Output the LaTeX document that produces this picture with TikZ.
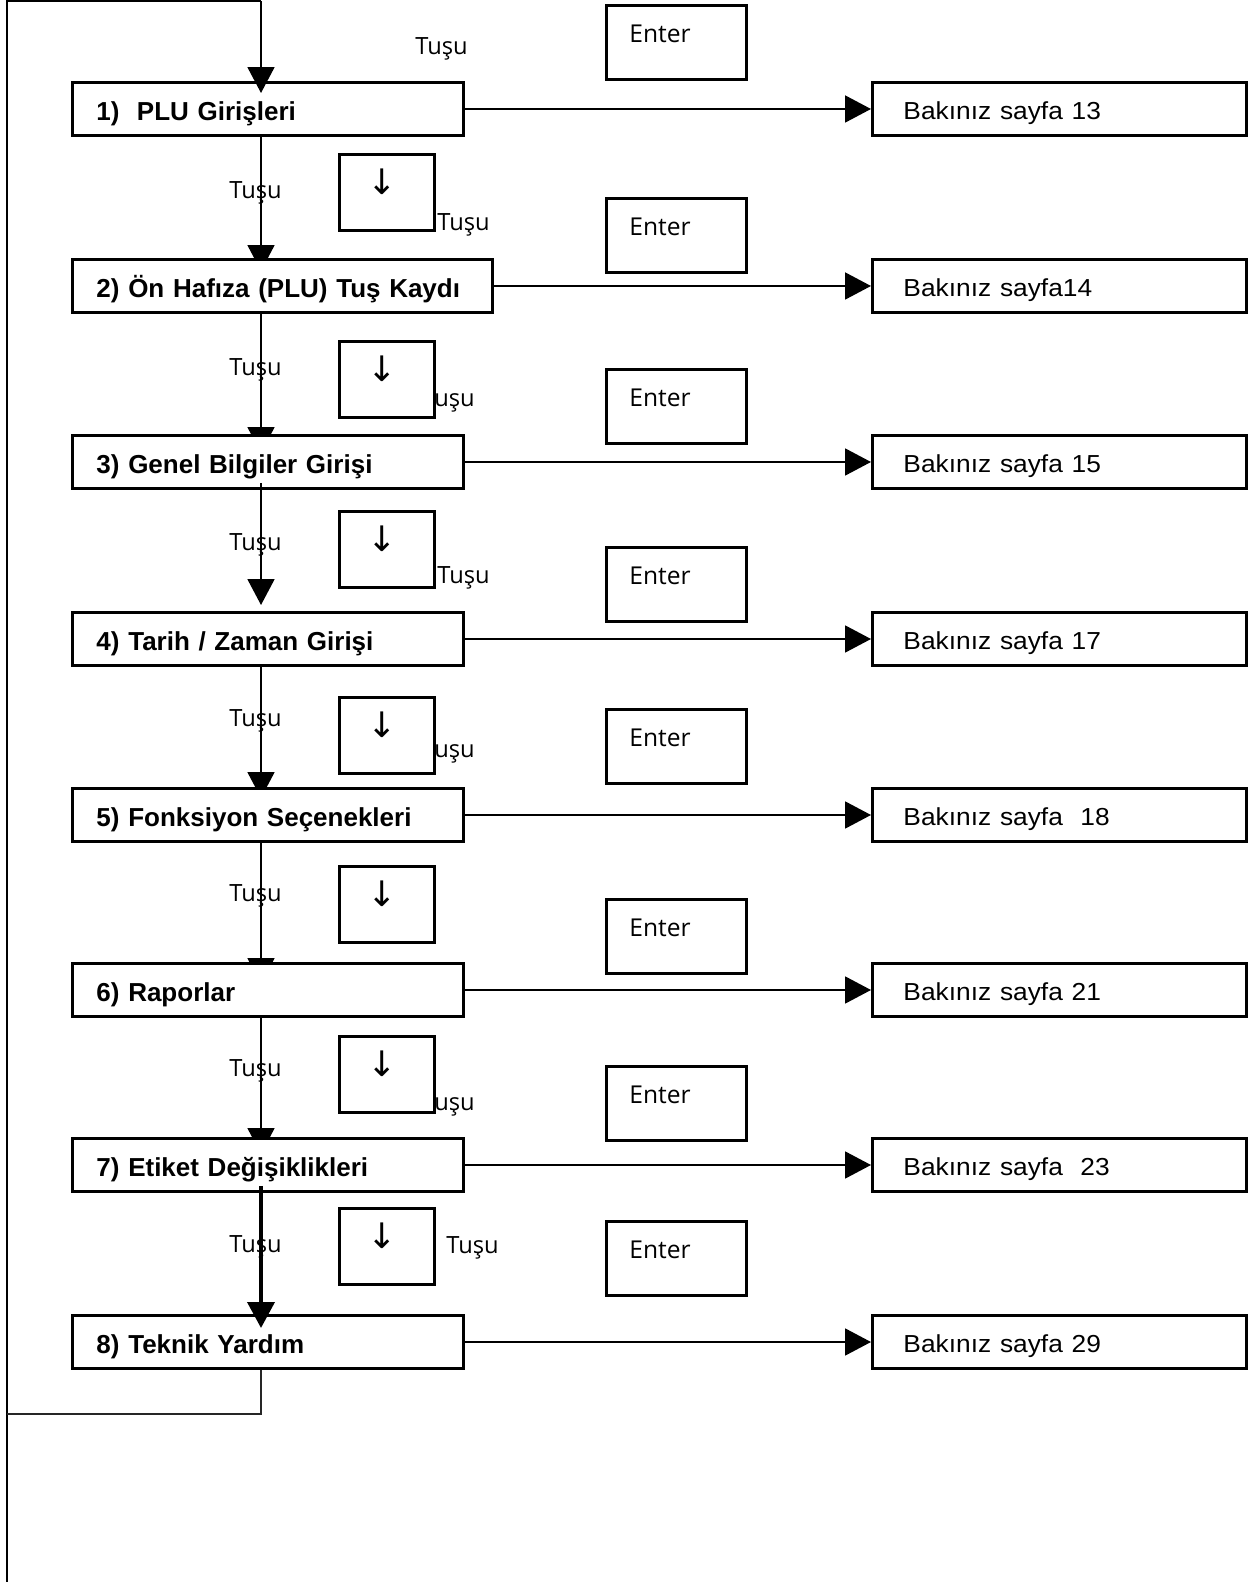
\documentclass[tikz,border=0pt]{standalone}
\usepackage{fontspec}
\setmainfont{Liberation Sans}
\newfontfamily\keyfont{Open Sans}
\newfontfamily\symfont{DejaVu Sans}
\usepackage{tikz}
\usetikzlibrary{arrows.meta, backgrounds}

\tikzset{
  menubox/.style={draw, line width=1.7pt, fill=white, anchor=north west,
    inner xsep=0.48cm, inner ysep=0pt, text height=0.76cm, text depth=0.30cm,
    text width=6.86cm, align=left, font=\fontsize{14.8}{17}\selectfont\bfseries},
  pagebox/.style={draw, line width=1.7pt, fill=white, anchor=north west,
    inner xsep=0.62cm, inner ysep=0pt, text height=0.74cm, text depth=0.32cm,
    text width=6.24cm, align=left, font=\fontsize{14}{16}\selectfont},
  enterbox/.style={draw, line width=1.6pt, fill=white, anchor=north west,
    inner xsep=0.46cm, inner ysep=0pt, text width=1.88cm, align=left,
    text height=0.74cm, text depth=0.74cm, font=\keyfont\fontsize{14}{16}\selectfont},
  arrowbox/.style={draw, line width=1.6pt, fill=white, anchor=north west,
    inner xsep=0.56cm, inner ysep=0pt, text width=0.78cm, align=left,
    text height=0.8cm, text depth=0.72cm, font=\symfont\fontsize{20}{22}\selectfont},
  tusu/.style={anchor=base west, inner sep=0pt, font=\keyfont\fontsize{13.5}{16}\selectfont},
  flow/.style={line width=1.1pt, -{Triangle[length=0.52cm,width=0.54cm]}},
}

\begin{document}
\begin{tikzpicture}[x=0.02cm, y=-0.02cm]
        \useasboundingbox (0,0) rectangle (1250,1582);

        % 主菜单
        \node[menubox] (b1) at (71,81) {1)\ \ PLU Girişleri};
        \node[menubox, text width=7.44cm] (b2) at (71,258) {2) Ön Hafıza (PLU) Tuş Kaydı};
        \node[menubox] (b3) at (71,434) {3) Genel Bilgiler Girişi};
        \node[menubox] (b4) at (71,611) {4) Tarih / Zaman Girişi};
        \node[menubox] (b5) at (71,787) {5) Fonksiyon Seçenekleri};
        \node[menubox] (b6) at (71,962) {6) Raporlar};
        \node[menubox] (b7) at (71,1137) {7) Etiket Değişiklikleri};
        \node[menubox] (b8) at (71,1314) {8) Teknik Yardım};

        % 页码
        \node[pagebox] (p1) at (871,81) {\scalebox{1.07}[1]{Bakınız sayfa 13}};
        \node[pagebox] (p2) at (871,258) {\scalebox{1.07}[1]{Bakınız sayfa14}};
        \node[pagebox] (p3) at (871,434) {\scalebox{1.07}[1]{Bakınız sayfa 15}};
        \node[pagebox] (p4) at (871,611) {\scalebox{1.07}[1]{Bakınız sayfa 17}};
        \node[pagebox] (p5) at (871,787) {\scalebox{1.07}[1]{Bakınız sayfa\ \ 18}};
        \node[pagebox] (p6) at (871,962) {\scalebox{1.07}[1]{Bakınız sayfa 21}};
        \node[pagebox] (p7) at (871,1137) {\scalebox{1.07}[1]{Bakınız sayfa\ \ 23}};
        \node[pagebox] (p8) at (871,1314) {\scalebox{1.07}[1]{Bakınız sayfa 29}};

        % Enter 键
        \foreach \t [count=\i] in {4,197,368,546,708,898,1065,1220}
          \node[enterbox] (enter\i) at (605,\t) {Enter};

        % 向下键
        \foreach \t [count=\i] in {153,340,510,696,865,1035,1207}
          \node[arrowbox] (down\i) at (338,\t) {↓};

        % 键名
        \node[tusu] (t0) at (415,54) {Tuşu};
        \foreach \t [count=\i] in {198,375,550,726,901,1076,1252}
          \node[tusu] (tl\i) at (229,\t) {Tuşu};
        \node[tusu] (tr1) at (437,230) {Tuşu};
        \node[tusu] (tr2) at (434,406) {uşu};
        \node[tusu] (tr3) at (437,583) {Tuşu};
        \node[tusu] (tr4) at (434,757) {uşu};
        \node[tusu] (tr6) at (434,1110) {uşu};
        \node[tusu] (tr7) at (446,1253) {Tuşu};

        % 回路线
        \coordinate (spine) at (261,0);
        \coordinate (topleft) at (7,1);
        \coordinate (topright) at (261,1);
        \coordinate (bottomleft) at (7,1582);
        \coordinate (loopcorner) at (7,1414);
        \draw[line width=1.5pt] (bottomleft) -- (topleft) -- (topright);
        \draw[line width=0.9pt, black!85] (b8.south -| spine) |- (loopcorner);

        % 向下的连线
        \draw[flow, shorten >=-0.24cm] (topright) -- (b1.north -| spine);
        \draw[flow, shorten <=-0.14cm, shorten >=0.12cm] (b3.south -| spine) -- (b4.north -| spine);
        \draw[flow, line width=2.2pt, shorten <=-0.14cm, shorten >=-0.28cm] (b7.south -| spine) -- (b8.north -| spine);
        \begin{scope}[on background layer]
          \draw[flow, shorten >=-0.26cm] (b1.south -| spine) -- (b2.north -| spine);
          \draw[flow, shorten >=-0.38cm] (b2.south -| spine) -- (b3.north -| spine);
          \draw[flow, shorten >=-0.22cm] (b4.south -| spine) -- (b5.north -| spine);
          \draw[flow, shorten >=-0.44cm] (b5.south -| spine) -- (b6.north -| spine);
          \draw[flow, shorten >=-0.34cm] (b6.south -| spine) -- (b7.north -| spine);
        \end{scope}

        % 向右的连线
        \draw[flow] (b1.east) -- (p1.west);
        \draw[flow] (b2.east) -- (p2.west);
        \draw[flow] (b3.east) -- (p3.west);
        \draw[flow] (b4.east) -- (p4.west);
        \draw[flow] (b5.east) -- (p5.west);
        \draw[flow] (b6.east) -- (p6.west);
        \draw[flow] (b7.east) -- (p7.west);
        \draw[flow] (b8.east) -- (p8.west);
\end{tikzpicture}
\end{document}
